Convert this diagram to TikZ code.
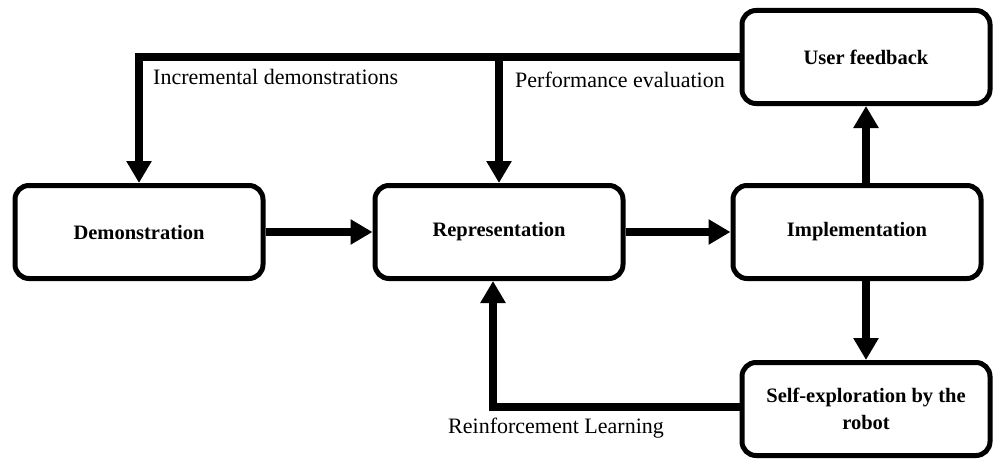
\documentclass[tikz,border=0pt]{standalone}
\usepackage{fontspec}
\setmainfont{Liberation Serif}
\usetikzlibrary{arrows.meta}

\tikzset{
 stage/.style={draw,line width=5pt,rounded corners=14pt,minimum width=248pt,minimum height=93pt,
  align=center,font=\fontsize{20.5}{27}\selectfont\bfseries},
 flow/.style={line width=8pt,-{Triangle[width=24pt,length=22pt]}},
 lbl/.style={inner sep=0pt,font=\fontsize{22}{26}\selectfont}
}

\begin{document}
\begin{tikzpicture}[x=1pt,y=1pt]
 \useasboundingbox (0,0) rectangle (993,459);
 % boxes
 \node[stage] (demo) at (139,227) {Demonstration};
 \node[stage] (rep) at (499,227) {Representation};
 \node[stage] (impl) at (857,227) {Implementation};
 \node[stage] (uf) at (866,402) {User feedback};
 \node[stage] (self) at (866,50) {Self-exploration by the\\robot};
 % connectors
 \draw[flow] (demo.east) -- (rep.west);
 \draw[flow] (rep.east) -- (impl.west);
 \draw[flow] (uf.south |- impl.north) -- (uf.south);
 \draw[flow] (self.north |- impl.south) -- (self.north);
 \draw[flow] (uf.west) -| (demo.north);
 \draw[flow] (rep.north |- uf.west) -- (rep.north);
 \draw[flow] ([yshift=2pt]self.west) -| ([xshift=-6pt]rep.south);
 % labels
 \node[lbl,anchor=base west] (incr) at (153,374) {Incremental demonstrations};
 \node[lbl,anchor=base west] (perf) at (515,372) {Performance evaluation};
 \node[lbl,anchor=base west] (reinf) at (448,26) {Reinforcement Learning};
\end{tikzpicture}
\end{document}
